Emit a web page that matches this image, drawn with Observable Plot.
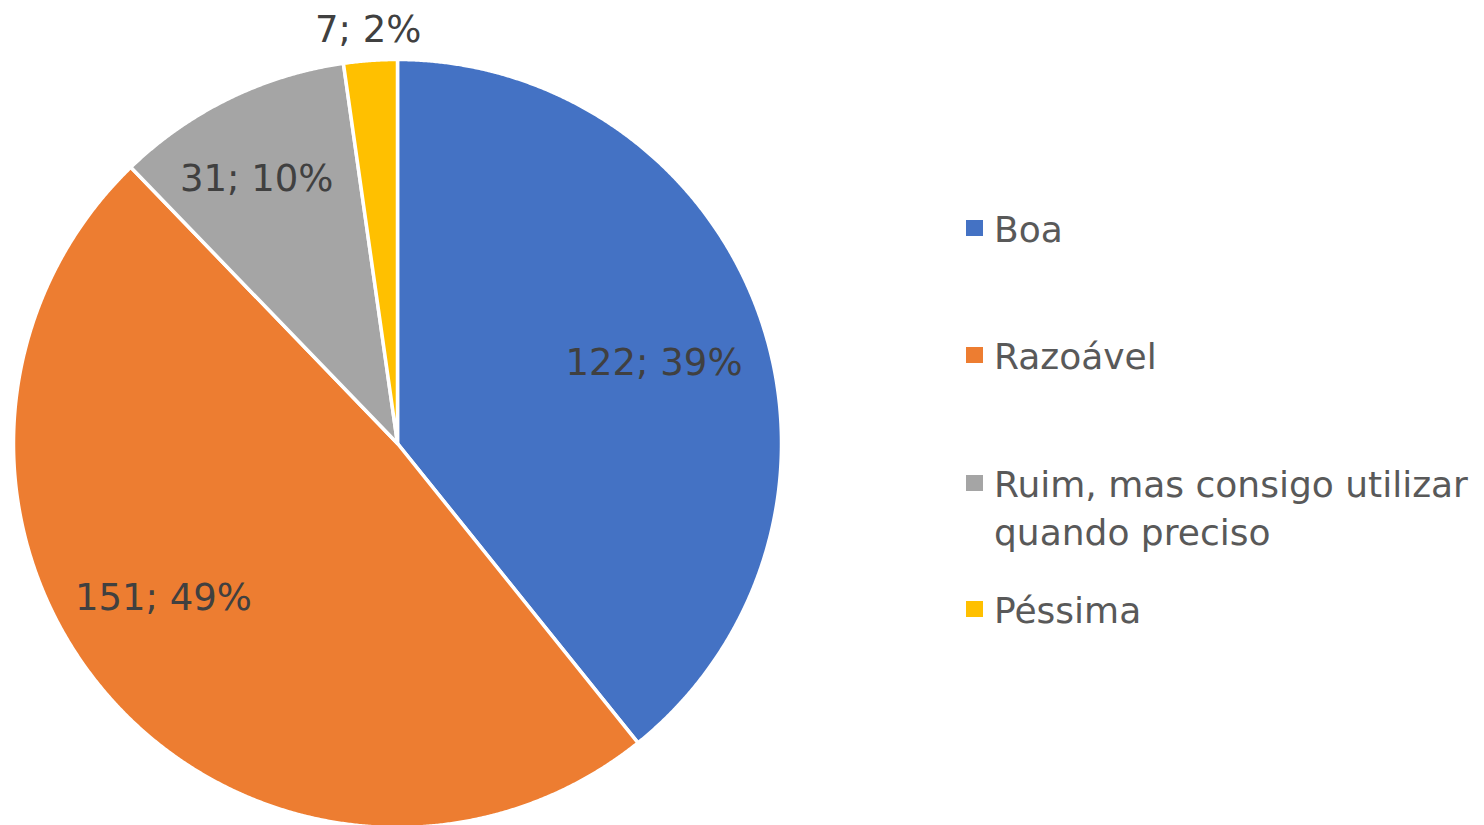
<!DOCTYPE html>
<html>
<head>
<meta charset="utf-8">
<script src="https://cdn.jsdelivr.net/npm/d3@7"></script>
<script src="https://cdn.jsdelivr.net/npm/@observablehq/plot@0.6"></script>
<style>
  body { margin: 0; background: #fff; font-family: "DejaVu Sans", Verdana, sans-serif; }
  #wrap { position: relative; width: 1484px; height: 825px; overflow: hidden; }
  #legend { position: absolute; left: 966px; top: 0; width: 520px; color: #595959; font-size: 36px; }
  .item { position: absolute; left: 0; display: flex; align-items: flex-start; }
  .sw { width: 17px; height: 16px; margin-top: 14px; margin-right: 11px; flex: none; }
  .lab { line-height: 48px; width: 492px; }
</style>
</head>
<body>
<div id="wrap"></div>
<script>
const categories = ["Boa", "Razoável", "Ruim, mas consigo utilizar quando preciso", "Péssima"];
const counts = [122, 151, 31, 7];
const percents = [39, 49, 10, 2];
const colors = ["#4472C4", "#ED7D31", "#A5A5A5", "#FFC000"];

// label placement (fraction of radius, angular shift in degrees)
const labelRadius = [0.70, 0.73, 0.78, 1.08];
const labelShift = [2, 8, -2, 0];

const W = 1484, H = 825, cx = 397, cy = 443, R = 384;

const arcs = d3.pie().sort(null)(counts);
const wedgePoints = [];
arcs.forEach((a, i) => {
  const cat = categories[i];
  wedgePoints.push({cat, x: 0, y: 0});
  const n = Math.max(4, Math.ceil((a.endAngle - a.startAngle) / 0.004));
  for (let k = 0; k <= n; k++) {
    const t = a.startAngle + (a.endAngle - a.startAngle) * k / n;
    wedgePoints.push({cat, x: Math.sin(t), y: Math.cos(t)});
  }
});

const labels = arcs.map((a, i) => {
  const m = (a.startAngle + a.endAngle) / 2 + labelShift[i] * Math.PI / 180;
  return {
    x: Math.sin(m) * labelRadius[i],
    y: Math.cos(m) * labelRadius[i],
    text: `${counts[i]}; ${percents[i]}%`
  };
});

const chart = Plot.plot({
  width: W, height: H,
  margin: 0,
  x: {domain: [-cx / R, (W - cx) / R], axis: null},
  y: {domain: [-(H - cy) / R, cy / R], axis: null},
  color: {domain: categories, range: colors},
  style: {fontFamily: '"DejaVu Sans", Verdana, sans-serif', background: "white"},
  marks: [
    Plot.line(wedgePoints, {x: "x", y: "y", z: "cat", fill: "cat", stroke: "white", strokeWidth: 3.5, strokeLinejoin: "round", curve: "linear-closed"}),
    Plot.text(labels, {x: "x", y: "y", text: "text", fontSize: 37, fill: "#404040"})
  ]
});

const wrap = document.getElementById("wrap");
wrap.appendChild(chart);

const legendTops = [206, 333, 461, 587];
const legend = document.createElement("div");
legend.id = "legend";
categories.forEach((c, i) => {
  const item = document.createElement("div");
  item.className = "item";
  item.style.top = legendTops[i] + "px";
  const sw = document.createElement("div");
  sw.className = "sw";
  sw.style.background = colors[i];
  const lab = document.createElement("div");
  lab.className = "lab";
  lab.textContent = c;
  item.appendChild(sw);
  item.appendChild(lab);
  legend.appendChild(item);
});
wrap.appendChild(legend);
</script>
</body>
</html>
